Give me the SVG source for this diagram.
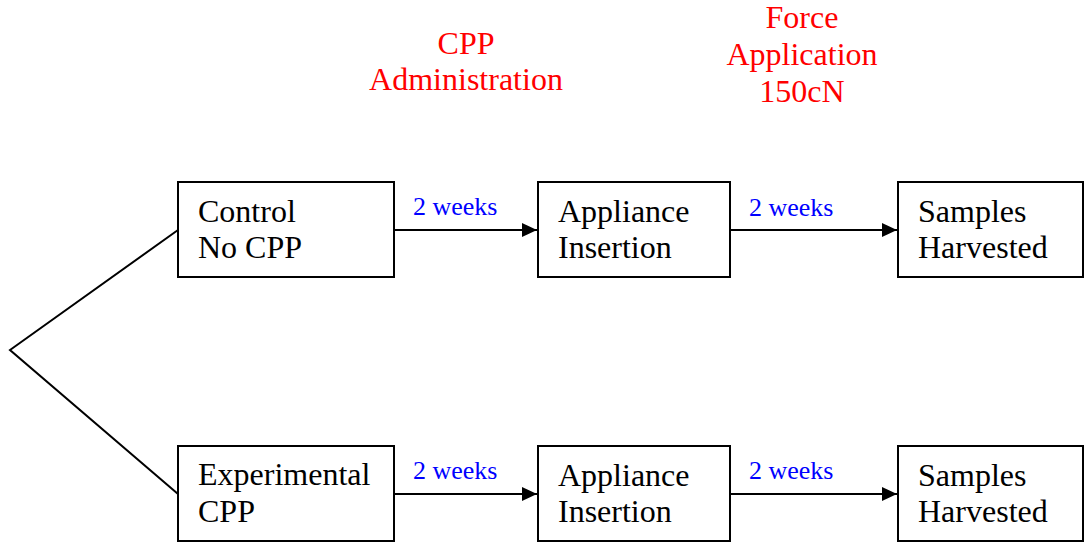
<svg xmlns="http://www.w3.org/2000/svg" width="1084" height="544" viewBox="0 0 1084 544">
<style>
.box{fill:#fff;stroke:#000;stroke-width:2}
.t{font-family:"Liberation Serif","Times New Roman",serif;font-size:32px;fill:#000}
.r{font-family:"Liberation Serif","Times New Roman",serif;font-size:32px;fill:#ff0000;text-anchor:middle}
.b{font-family:"Liberation Serif","Times New Roman",serif;font-size:26px;fill:#0000ff}
.c{stroke:#000;stroke-width:2;fill:none}
</style>
<defs>
<marker id="ah" markerWidth="16" markerHeight="14" refX="15" refY="7" orient="auto" markerUnits="userSpaceOnUse">
<path d="M0,0 L15,7 L0,14 Z" fill="#000"/>
</marker>
</defs>
<rect width="1084" height="544" fill="#fff"/>
<g id="labels">
<text class="r" x="466" y="54">CPP</text>
<text class="r" x="466" y="90">Administration</text>
<text class="r" x="802" y="28">Force</text>
<text class="r" x="802" y="65">Application</text>
<text class="r" x="802" y="102">150cN</text>
</g>
<g id="connectors">
<polyline class="c" points="178,230 10,350 178,494" stroke-width="1.8"/>
<line class="c" x1="394" y1="230" x2="537" y2="230" marker-end="url(#ah)"/>
<line class="c" x1="730" y1="230" x2="897" y2="230" marker-end="url(#ah)"/>
<line class="c" x1="394" y1="494" x2="537" y2="494" marker-end="url(#ah)"/>
<line class="c" x1="730" y1="494" x2="897" y2="494" marker-end="url(#ah)"/>
<text class="b" x="413" y="215">2 weeks</text>
<text class="b" x="749" y="216">2 weeks</text>
<text class="b" x="413" y="479">2 weeks</text>
<text class="b" x="749" y="479">2 weeks</text>
</g>
<g id="n1">
<rect class="box" x="178" y="182" width="216" height="95"/>
<text class="t" x="198" y="222">Control</text>
<text class="t" x="198" y="258">No CPP</text>
</g>
<g id="n2">
<rect class="box" x="538" y="182" width="192" height="95"/>
<text class="t" x="558" y="222">Appliance</text>
<text class="t" x="558" y="258">Insertion</text>
</g>
<g id="n3">
<rect class="box" x="898" y="182" width="185" height="95"/>
<text class="t" x="918" y="222">Samples</text>
<text class="t" x="918" y="258">Harvested</text>
</g>
<g id="n4">
<rect class="box" x="178" y="446" width="216" height="95"/>
<text class="t" x="198" y="485">Experimental</text>
<text class="t" x="198" y="522">CPP</text>
</g>
<g id="n5">
<rect class="box" x="538" y="446" width="192" height="95"/>
<text class="t" x="558" y="486">Appliance</text>
<text class="t" x="558" y="522">Insertion</text>
</g>
<g id="n6">
<rect class="box" x="898" y="446" width="185" height="95"/>
<text class="t" x="918" y="486">Samples</text>
<text class="t" x="918" y="522">Harvested</text>
</g>
</svg>
